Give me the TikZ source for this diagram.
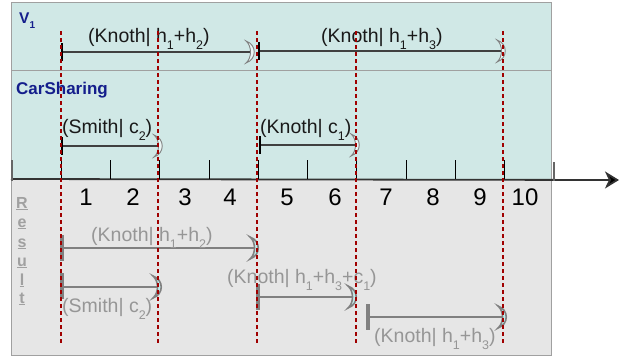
\documentclass[tikz,border=0pt]{standalone}
\usepackage{fontspec}
\setmainfont{Liberation Sans}
\usetikzlibrary{arrows.meta}
\definecolor{panelA}{RGB}{208,232,230}
\definecolor{panelB}{RGB}{230,230,230}
\definecolor{frame}{RGB}{160,160,160}
\definecolor{navy}{RGB}{20,30,140}
\definecolor{dred}{RGB}{160,0,0}
\definecolor{resgray}{RGB}{128,128,128}
\definecolor{reslabel}{RGB}{150,150,150}
\definecolor{moonfill}{RGB}{196,236,236}
\newcommand{\sbs}[1]{\raisebox{-7pt}{\fontsize{12.5}{12.5}\selectfont #1}}
\tikzset{
  moon/.pic={\path[pic actions] (-9,-11) .. controls (2,-7) and (2,7) .. (-9,11) .. controls (-3,6) and (-3,-6) .. (-9,-11) -- cycle;},
  tbar/.pic={\path[pic actions] (0,-9) -- (0,9);},
  rbar/.pic={\path[pic actions] (0,-13) -- (0,13);},
  topmoon/.style={draw=resgray, fill=white!55!panelA, line width=0.9pt},
  resmoon/.style={draw=resgray, fill=moonfill, line width=1.6pt},
  topbarst/.style={draw=black, line width=2.6pt},
  resbarst/.style={draw=resgray, line width=3.2pt},
  topline/.style={draw=black!75, line width=1.2pt},
  resline/.style={draw=resgray, line width=2.2pt},
  toplabel/.style={anchor=base west, inner sep=0pt, text=black!90, font=\fontsize{19.5}{20}\selectfont},
  reslabelst/.style={anchor=base west, inner sep=0pt, text=reslabel, font=\fontsize{19.5}{20}\selectfont},
  digit/.style={anchor=base, inner sep=0pt, font=\fontsize{24}{24}\selectfont},
  resletter/.style={anchor=base, inner sep=0pt, text=reslabel!90, font=\fontsize{16}{16}\selectfont\bfseries},
  redline/.style={draw=dred, line width=2.3pt, dash pattern=on 4pt off 3pt},
  tickst/.style={draw=black, line width=1pt},
  endtick/.style={draw=resgray!80!black, line width=1.6pt},
}
\begin{document}
\begin{tikzpicture}[x=1pt,y=-1pt]
\useasboundingbox (0,0) rectangle (620,359);
% panels
\draw[fill=panelA, draw=frame, line width=1pt] (11,2) rectangle (551,179);
\draw[draw=frame, line width=1pt] (11,70) -- (551,70);
\draw[fill=panelB, draw=frame, line width=1pt] (11,179) rectangle (551,355);
% headings
\node[anchor=base west, inner sep=0pt, text=navy, font=\fontsize{15.5}{16}\selectfont\bfseries] (v1) at (19,23) {V\raisebox{-5pt}{\fontsize{10}{10}\selectfont 1}};
\node[anchor=base west, inner sep=0pt, text=navy, font=\fontsize{17}{17}\selectfont\bfseries] (cs) at (16,94) {CarSharing};
\node[resletter] (lR) at (22,208) {\underline{R}};
\node[resletter] (le) at (22,227) {\underline{e}};
\node[resletter] (ls) at (22,247) {\underline{s}};
\node[resletter] (lu) at (22,266) {\underline{u}};
\node[resletter] (ll) at (22,285) {\underline{l}};
\node[resletter] (lt) at (22,303) {\underline{t}};
% axis
\coordinate (axl) at (11,179);
\coordinate (axr) at (619,180);
\draw[draw=black!80, line width=1.8pt, -{Stealth[length=14pt,width=17pt,inset=4pt,fill=black]}] (axl) -- (axr);
\foreach \i in {1,...,10} {
  \coordinate (tk\i) at ({12+49.27*\i},160);
  \draw[tickst] (tk\i) -- ++(0,19);
}
\coordinate (tk0) at (12,160);
\coordinate (tk11) at (554,162);
\draw[endtick] (tk0) -- ++(0,21);
\draw[endtick] (tk11) -- ++(0,19);
\foreach \n/\x in {1/86,2/133,3/185,4/230,5/287,6/335,7/386,8/433,9/480,10/525} {
  \node[digit] (d\n) at (\x,205) {\n};
}
% V1 intervals
\coordinate (s1) at (62,52); \coordinate (e1) at (250,52);
\coordinate (s2) at (259,51); \coordinate (e2) at (501,51);
\draw[topline] (s1) -- (e1);
\draw[topline] (s2) -- (e2);
\pic[topmoon, xshift=5pt] at (e1) {moon};
\pic[topmoon, xshift=5pt] at (e2) {moon};
\pic[topbarst] at (s1) {tbar};
\pic[topbarst] at (s2) {tbar};
\node[toplabel] (t1) at (88,42) {(Knoth| h\sbs{1}+h\sbs{2})};
\node[toplabel] (t2) at (321,42) {(Knoth| h\sbs{1}+h\sbs{3})};
% CarSharing intervals
\coordinate (s3) at (62,146); \coordinate (e3) at (158,146);
\coordinate (s4) at (260,145); \coordinate (e4) at (355,145);
\draw[topline] (s3) -- (e3);
\draw[topline] (s4) -- (e4);
\pic[topmoon, xshift=5pt] at (e3) {moon};
\pic[topmoon, xshift=5pt] at (e4) {moon};
\pic[topbarst] at (s3) {tbar};
\pic[topbarst] at (s4) {tbar};
\node[toplabel] (t3) at (62,133) {(Smith| c\sbs{2})};
\node[toplabel] (t4) at (260,133) {(Knoth| c\sbs{1})};
% Result intervals
\coordinate (r1s) at (62,248); \coordinate (r1e) at (254,248);
\coordinate (r2s) at (62,287); \coordinate (r2e) at (157,287);
\coordinate (r3s) at (258,297); \coordinate (r3e) at (352,297);
\coordinate (r4s) at (368,317); \coordinate (r4e) at (502,317);
\draw[resline] (r1s) -- (r1e);
\draw[resline] (r2s) -- (r2e);
\draw[resline] (r3s) -- (r3e);
\draw[resline] (r4s) -- (r4e);
\pic[resmoon, xshift=5pt] at (r1e) {moon};
\pic[resmoon, xshift=5pt] at (r2e) {moon};
\pic[resmoon, xshift=5pt] at (r3e) {moon};
\pic[resmoon, xshift=5pt] at (r4e) {moon};
\pic[resbarst] at (r1s) {rbar};
\pic[resbarst, yshift=1pt] at (r2s) {rbar};
\pic[resbarst] at (r3s) {rbar};
\pic[resbarst] at (r4s) {rbar};
\node[reslabelst] (u1) at (91,241) {(Knoth| h\sbs{1}+h\sbs{2})};
\node[reslabelst] (u2) at (62,312) {(Smith| c\sbs{2})};
\node[reslabelst] (u3) at (227,283) {(Knoth| h\sbs{1}+h\sbs{3}+c\sbs{1})};
\node[reslabelst] (u4) at (374,342) {(Knoth| h\sbs{1}+h\sbs{3})};
% red dashed markers
\foreach \k/\x in {a/61,b/158,c/257,d/356,e/503} {
  \coordinate (m\k t) at (\x,31);
  \coordinate (m\k b) at (\x,345);
  \draw[redline] (m\k t) -- (m\k b);
}
\end{tikzpicture}
\end{document}
